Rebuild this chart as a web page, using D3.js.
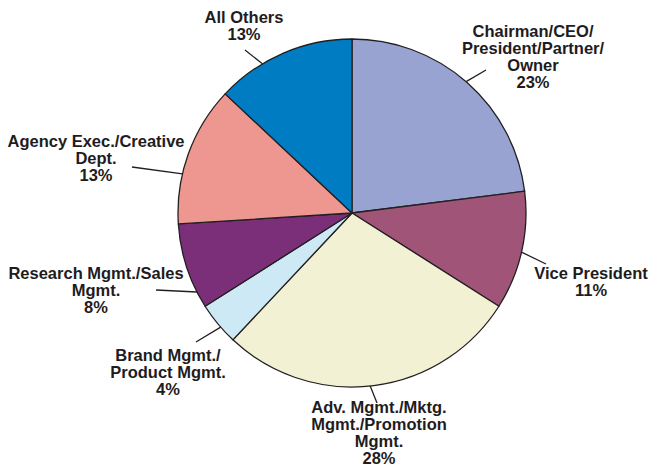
<!DOCTYPE html>
<html>
<head>
<meta charset="utf-8">
<script src="https://cdn.jsdelivr.net/npm/d3@7"></script>
<style>
  body { margin: 0; background: #fff; }
  text { font-family: "Liberation Sans", Arial, sans-serif; font-weight: bold; fill: #1f1c1d; }
</style>
</head>
<body>
<div id="chart"></div>
<script>
// slices, clockwise from 12 o'clock
var categories = [
    "Chairman/CEO/\nPresident/Partner/\nOwner",
    "Vice President",
    "Adv. Mgmt./Mktg.\nMgmt./Promotion\nMgmt.",
    "Brand Mgmt./\nProduct Mgmt.",
    "Research Mgmt./Sales\nMgmt.",
    "Agency Exec./Creative\nDept.",
    "All Others"
]
var values = [23, 11, 28, 4, 8, 13, 13]
var colors = ["#99a3d2", "#a05478", "#f3f1d4", "#cde9f5", "#7b2f78", "#ee9690", "#007cc3"]

// label layout: angle of leader start on the rim (deg), leader end, text centre / first baseline
var labelLayout = [
    { at: 41, tip: [486, 70], text: [533, 37] },
    { at: 103, tip: [546, 264], text: [591, 279] },
    { at: 174, tip: [377, 403], text: [379, 413] },
    { at: 229, tip: [196, 342], text: [168, 361] },
    { at: 243, tip: [156, 290], text: [96, 279] },
    { at: 283, tip: [132, 167], text: [96, 147] },
    { at: 329, tip: [245, 50], text: [244, 23] }
]

var width = 650, height = 475
var cx = 352, cy = 213, radius = 174
var lineH = 17

var svg = d3.select("#chart")
    .append("svg")
    .attr("width", width)
    .attr("height", height)

var pie = d3.pie().sort(null).value(function (d) { return d })
var arc = d3.arc().innerRadius(0).outerRadius(radius)

var g = svg.append("g")
    .attr("transform", "translate(" + cx + "," + cy + ")")

g.selectAll("path")
    .data(pie(values))
    .enter()
    .append("path")
    .attr("d", arc)
    .attr("fill", function (d, i) { return colors[i] })
    .attr("stroke", "#231f20")
    .attr("stroke-width", 1.3)
    .attr("stroke-linejoin", "round")

// leader lines
labelLayout.forEach(function (l) {
    var a = l.at * Math.PI / 180
    svg.append("line")
        .attr("x1", cx + radius * Math.sin(a))
        .attr("y1", cy - radius * Math.cos(a))
        .attr("x2", l.tip[0])
        .attr("y2", l.tip[1])
        .attr("stroke", "#231f20")
        .attr("stroke-width", 1.3)
})

// labels
categories.forEach(function (c, i) {
    var lines = c.split("\n").concat([values[i] + "%"])
    var t = svg.append("text")
        .attr("text-anchor", "middle")
        .attr("font-size", "16.5px")
        .attr("x", labelLayout[i].text[0])
        .attr("y", labelLayout[i].text[1])
    lines.forEach(function (s, k) {
        t.append("tspan")
            .attr("x", labelLayout[i].text[0])
            .attr("dy", k === 0 ? 0 : lineH)
            .text(s)
    })
})
</script>
</body>
</html>
